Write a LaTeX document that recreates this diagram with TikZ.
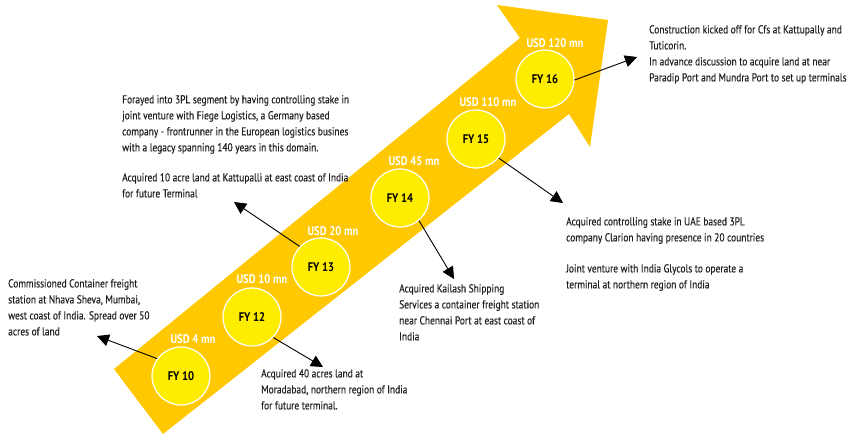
\documentclass[tikz,border=0pt]{standalone}
\usepackage{fontspec}
\setmainfont{PT Sans}[FakeStretch=0.82,FakeBold=0.4]
\newfontfamily\labelfont{PT Sans}[FakeStretch=0.85]
\usetikzlibrary{arrows.meta}
\definecolor{bandcol}{RGB}{255,200,0}
\definecolor{disccol}{RGB}{255,237,0}
\definecolor{txtcol}{RGB}{35,31,32}
\begin{document}
\begin{tikzpicture}[x=1pt,y=-1pt,
  disc/.style={circle, fill=disccol, draw=white, line width=1.2pt, minimum size=58pt, inner sep=0pt,
    font=\labelfont\fontsize{12.5}{14}\selectfont\bfseries, text=black},
  usd/.style={font=\labelfont\fontsize{12.5}{14}\selectfont\bfseries, text=white, inner sep=0pt},
  desc/.style={font=\fontsize{11.5}{16}\selectfont, text=txtcol, align=left, anchor=north west, inner sep=0pt},
  conn/.style={draw=black, line width=0.9pt, -{Triangle[length=12pt,width=12pt]}}]
\useasboundingbox (0,0) rectangle (848,438);
% band arrow
\fill[bandcol] (114,369) -- (520,38) -- (497,5) -- (608,20) -- (590,147) -- (569,114) -- (163,434) -- cycle;
% discs
\node[disc] (c10) at (181,376) {FY 10};
\node[disc] (c12) at (252,317) {FY 12};
\node[disc] (c13) at (321,267) {FY 13};
\node[disc] (c14) at (400,198) {FY 14};
\node[disc] (c15) at (476,139) {FY 15};
\node[disc] (c16) at (545,79) {FY 16};
% amounts
\node[usd] (u10) at (193,339) {USD 4 mn};
\node[usd] (u12) at (262,279) {USD 10 mn};
\node[usd] (u13) at (333,231) {USD 20 mn};
\node[usd] (u14) at (414,161) {USD 45 mn};
\node[usd] (u15) at (488,102) {USD 110 mn};
\node[usd] (u16) at (555,43) {USD 120 mn};
% descriptions
\node[desc] (t10) at (8,279) {Commissioned Container freight\\station at Nhava Sheva, Mumbai,\\west coast of India. Spread over 50\\acres of land};
\node[desc] (t12) at (261,369) {Acquired 40 acres land at\\Moradabad, northern region of India\\for future terminal.};
\node[desc] (t13a) at (122,95) {Forayed into 3PL segment by having controlling stake in\\joint venture with Fiege Logistics, a Germany based\\company - frontrunner in the European logistics busines\\with a legacy spanning 140 years in this domain.};
\node[desc] (t13b) at (122,173) {Acquired 10 acre land at Kattupalli at east coast of India\\for future Terminal};
\node[desc] (t14) at (399,284) {Acquired Kailash Shipping\\Services a container freight station\\near Chennai Port at east coast of\\India};
\node[desc] (t15a) at (566,217) {Acquired controlling stake in UAE based 3PL\\company Clarion having presence in 20 countries};
\node[desc] (t15b) at (566,264) {Joint venture with India Glycols to operate a\\terminal at northern region of India};
\node[desc] (t16) at (649,25) {Construction kicked off for Cfs at Kattupally and\\Tuticorin.\\In advance discussion to acquire land at near\\Paradip Port and Mundra Port to set up terminals};
% connector ends
\coordinate (p10) at (97,336);
\coordinate (p12) at (323,367);
\coordinate (p13) at (234,202);
\coordinate (p14) at (454,279);
\coordinate (p15) at (563,203);
\coordinate (p16) at (637,57);
\draw[conn] (c10.144) -- (p10);
\draw[conn] (c12.316) -- (p12);
\draw[conn] (c13.136) -- (p13);
\draw[conn] (c14.310) -- (p14);
\draw[conn] (c15.320) -- (p15);
\draw[conn] (c16.358) -- (p16);
\end{tikzpicture}
\end{document}
